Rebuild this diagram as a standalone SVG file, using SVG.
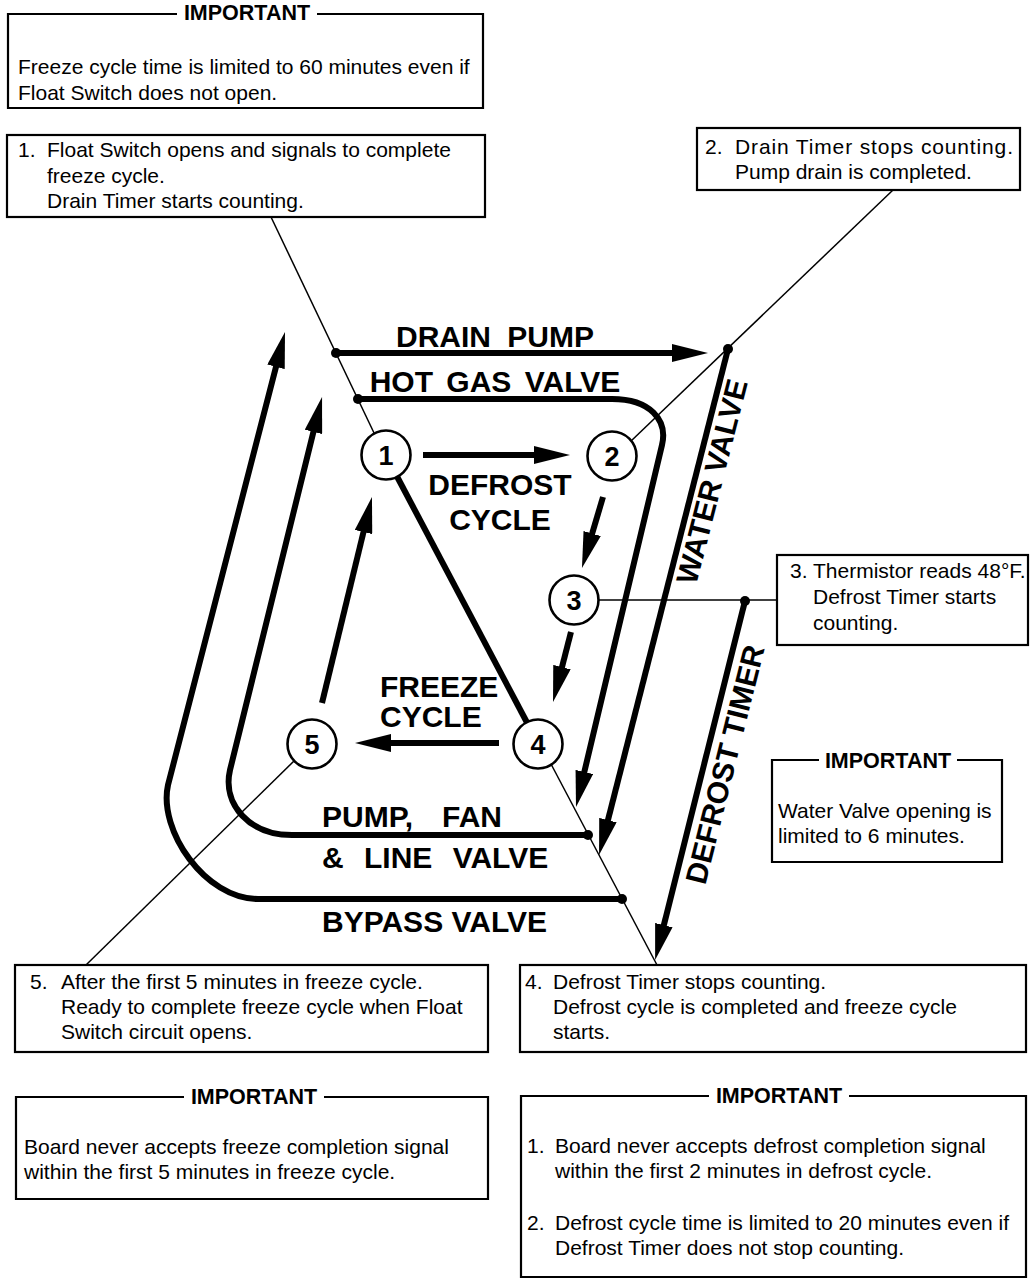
<svg xmlns="http://www.w3.org/2000/svg" width="1030" height="1279" viewBox="0 0 1030 1279">
<style>
text { font-family: "Liberation Sans", Arial, Helvetica, sans-serif; fill: #000; }
.t { font-size: 21px; }
.imp { font-size: 21.5px; font-weight: bold; text-anchor: middle; }
.big { font-size: 30px; font-weight: bold; }
.num { font-size: 27px; font-weight: bold; text-anchor: middle; }
.box { fill: none; stroke: #000; stroke-width: 2.2; }
.thick { fill: none; stroke: #000; stroke-width: 6; }
.thin { fill: none; stroke: #000; stroke-width: 1.5; }
.circ { fill: #fff; stroke: #000; stroke-width: 2.6; }
.dot { fill: #000; }
</style>
<defs>
<marker id="ah" markerUnits="userSpaceOnUse" markerWidth="36" markerHeight="18" viewBox="0 0 36 18" refX="20" refY="9" orient="auto">
<path d="M0,0 L36,9 L0,18 z" fill="#000"/>
</marker>
</defs>
<rect width="1030" height="1279" fill="#fff"/>

<g id="connectors">
<path class="thin" d="M271 217 L375 435"/>
<path class="thin" d="M630 442 L893 190"/>
<path class="thin" d="M597 600 L777 600"/>
<path class="thin" d="M551 764 L657 965"/>
<path class="thin" d="M295 760 L86 965"/>
<path class="thick" d="M336 353 L692 353" marker-end="url(#ah)"/>
<path class="thick" d="M358 399 L612 399 C650 399 668 420 662 445 L579.7 791.4" marker-end="url(#ah)"/>
<path class="thick" d="M728 349 L603 839.5" marker-end="url(#ah)"/>
<path class="thick" d="M745 601 L659 944.5" marker-end="url(#ah)"/>
<path class="thick" d="M588 835 L292 835 C250 835 222 805 230 770 L318.2 412.5" marker-end="url(#ah)"/>
<path class="thick" d="M622 899 L258 899 C205 899 158 830 168 785 L281 347.5" marker-end="url(#ah)"/>
<path class="thick" d="M396.5 475.5 L527.5 723.5"/>
<path class="thick" d="M423 455 L554 455" marker-end="url(#ah)"/>
<path class="thick" d="M603 497 L586.5 552.7" marker-end="url(#ah)"/>
<path class="thick" d="M571 632 L557 686.5" marker-end="url(#ah)"/>
<path class="thick" d="M499 743 L371 743" marker-end="url(#ah)"/>
<path class="thick" d="M322 703 L368.2 512.6" marker-end="url(#ah)"/>
<circle class="dot" cx="336" cy="353" r="5"/>
<circle class="dot" cx="358" cy="399" r="5"/>
<circle class="dot" cx="728" cy="349" r="5"/>
<circle class="dot" cx="745" cy="601" r="5"/>
<circle class="dot" cx="588" cy="835" r="5"/>
<circle class="dot" cx="622" cy="899" r="5"/>
</g>

<g id="step1"><circle class="circ" cx="386" cy="455" r="24.5"/><text class="num" x="386" y="465">1</text></g>
<g id="step2"><circle class="circ" cx="612" cy="456" r="24.5"/><text class="num" x="612" y="466">2</text></g>
<g id="step3"><circle class="circ" cx="574" cy="600" r="24.5"/><text class="num" x="574" y="610">3</text></g>
<g id="step4"><circle class="circ" cx="538" cy="744" r="24.5"/><text class="num" x="538" y="754">4</text></g>
<g id="step5"><circle class="circ" cx="312" cy="744" r="24.5"/><text class="num" x="312" y="754">5</text></g>

<g id="labels">
<text class="big" x="495" y="347" text-anchor="middle" word-spacing="8">DRAIN PUMP</text>
<text class="big" x="495" y="392" text-anchor="middle" word-spacing="5">HOT GAS VALVE</text>
<text class="big" x="500" y="495" text-anchor="middle" font-size="29">DEFROST</text>
<text class="big" x="500" y="530" text-anchor="middle" font-size="29">CYCLE</text>
<text class="big" x="380" y="697" font-size="28.5">FREEZE</text>
<text class="big" x="380" y="727" font-size="28.5">CYCLE</text>
<text class="big" y="827"><tspan x="322">PUMP,</tspan><tspan x="442">FAN</tspan></text>
<text class="big" x="322" y="868" word-spacing="12">&amp; LINE VALVE</text>
<text class="big" x="322" y="932">BYPASS VALVE</text>
<text class="big" x="722" y="484" text-anchor="middle" transform="rotate(-75.7 722 484)">WATER VALVE</text>
<text class="big" x="735" y="767" text-anchor="middle" transform="rotate(-75.9 735 767)">DEFROST TIMER</text>
</g>

<g id="important-top">
<path class="box" d="M177 14 H8 V108 H483 V14 H317"/>
<text class="imp" x="247" y="20">IMPORTANT</text>
<text class="t" x="18" y="74">Freeze cycle time is limited to 60 minutes even if</text>
<text class="t" x="18" y="100">Float Switch does not open.</text>
</g>

<g id="note1">
<rect class="box" x="7" y="135" width="478" height="82"/>
<text class="t" x="18" y="157">1.</text>
<text class="t" x="47" y="157">Float Switch opens and signals to complete</text>
<text class="t" x="47" y="183">freeze cycle.</text>
<text class="t" x="47" y="208">Drain Timer starts counting.</text>
</g>

<g id="note2">
<rect class="box" x="697" y="128" width="323" height="62"/>
<text class="t" x="705" y="154">2.</text>
<text class="t" x="735" y="154" textLength="278" lengthAdjust="spacing">Drain Timer stops counting.</text>
<text class="t" x="735" y="179">Pump drain is completed.</text>
</g>

<g id="note3">
<rect class="box" x="777" y="555" width="251" height="90"/>
<text class="t" x="790" y="578">3.</text>
<text class="t" x="813" y="578">Thermistor reads 48°F.</text>
<text class="t" x="813" y="604">Defrost Timer starts</text>
<text class="t" x="813" y="630">counting.</text>
</g>

<g id="important-water">
<path class="box" d="M819 760 H772 V862 H1002 V760 H957"/>
<text class="imp" x="888" y="768">IMPORTANT</text>
<text class="t" x="778" y="818">Water Valve opening is</text>
<text class="t" x="778" y="843">limited to 6 minutes.</text>
</g>

<g id="note5">
<rect class="box" x="15" y="965" width="473" height="87"/>
<text class="t" x="30" y="989">5.</text>
<text class="t" x="61" y="989">After the first 5 minutes in freeze cycle.</text>
<text class="t" x="61" y="1014">Ready to complete freeze cycle when Float</text>
<text class="t" x="61" y="1039">Switch circuit opens.</text>
</g>

<g id="note4">
<rect class="box" x="520" y="965" width="506" height="87"/>
<text class="t" x="525" y="989">4.</text>
<text class="t" x="553" y="989">Defrost Timer stops counting.</text>
<text class="t" x="553" y="1014">Defrost cycle is completed and freeze cycle</text>
<text class="t" x="553" y="1039">starts.</text>
</g>

<g id="important-freeze">
<path class="box" d="M184 1097 H16 V1199 H488 V1097 H324"/>
<text class="imp" x="254" y="1104">IMPORTANT</text>
<text class="t" x="24" y="1154">Board never accepts freeze completion signal</text>
<text class="t" x="24" y="1179">within the first 5 minutes in freeze cycle.</text>
</g>

<g id="important-defrost">
<path class="box" d="M709 1096 H521 V1277 H1026 V1096 H849"/>
<text class="imp" x="779" y="1103">IMPORTANT</text>
<text class="t" x="527" y="1153">1.</text>
<text class="t" x="555" y="1153">Board never accepts defrost completion signal</text>
<text class="t" x="555" y="1178">within the first 2 minutes in defrost cycle.</text>
<text class="t" x="527" y="1230">2.</text>
<text class="t" x="555" y="1230">Defrost cycle time is limited to 20 minutes even if</text>
<text class="t" x="555" y="1255">Defrost Timer does not stop counting.</text>
</g>
</svg>
